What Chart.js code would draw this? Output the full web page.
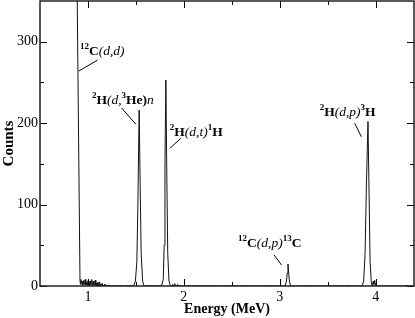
<!DOCTYPE html>
<html><head><meta charset="utf-8">
<script src="https://cdn.jsdelivr.net/npm/chart.js@4/dist/chart.umd.min.js"></script>
<style>html,body{margin:0;padding:0;background:#fff}</style>
</head><body>
<canvas id="c" width="415" height="318"></canvas>
<script>
// ---- data ----
const energy = [
  0.880,0.917,0.922,0.927,0.932,0.937,0.942,0.947,0.952,0.957,0.962,0.967,0.972,0.977,0.982,0.987,0.992,0.997,
  1.002,1.007,1.012,1.017,1.022,1.027,1.032,1.037,1.042,1.047,1.052,1.057,1.062,1.067,1.072,1.077,1.082,1.087,
  1.092,1.097,1.102,1.107,1.112,1.117,1.122,1.127,1.132,1.137,1.142,1.147,1.152,1.157,1.162,1.172,1.177,1.192,
  1.197,1.215,1.220,1.225,1.245,1.250,1.255,1.300,1.305,1.310,1.340,1.345,1.350,1.400,1.405,1.410,1.440,1.445,1.450,
  1.480,1.495,1.510,1.520,1.534,1.545,1.555,1.570,1.585,
  1.615,1.620,1.625,1.665,1.670,1.675,1.725,1.730,1.735,1.755,1.760,
  1.770,1.785,1.795,1.803,1.8125,1.822,1.832,1.845,1.860,
  1.880,1.885,1.890,1.900,1.905,1.910,1.930,1.935,1.940,1.955,1.960,1.965,2.050,2.055,2.060,2.150,2.155,2.160,
  2.220,2.225,2.230,2.260,2.265,2.270,2.300,2.305,2.310,2.420,2.425,2.430,2.600,2.605,2.610,2.860,2.865,2.870,
  2.900,2.905,2.910,
  3.055,3.070,3.078,3.086,3.094,3.102,3.115,
  3.300,3.305,3.310,3.580,3.585,3.590,3.620,3.625,3.630,3.700,3.705,3.710,
  3.860,3.875,3.890,3.903,3.920,3.932,3.942,3.955,3.965,3.975,3.982,3.990,4.000,
  4.300,4.305,4.310,4.320,4.325,4.330,4.400
];
const counts = [
  450,7,2,8,3,6,1,6,2,7,3,2,8,1,5,2,4,1,
  7,2,4,1,6,2,1,4,8,2,1,6,2,1,4,7,1,3,
  0,4,1,0,3,5,1,0,2,0,1,3,0,1,0,2,0,1,
  0,0,1,0,0,1,0,0,1,0,0,1,0,0,1,0,0,1,0,
  1,6,30,95,216,120,40,6,0,
  0,1,0,0,1,0,0,1,0,0,1,
  1,8,50,150,253,140,40,6,0,
  0,2,0,0,3,0,0,2,0,0,1,0,0,1,0,0,1,0,
  0,1,0,0,1,0,0,1,0,0,1,0,0,1,0,0,1,0,
  0,1,0,
  0,6,16,27,14,5,0,
  0,1,0,0,1,0,0,1,0,0,1,0,
  0,6,40,120,202,110,30,4,0,6,2,7,0,
  0,1,0,0,1,0,0
];
const xTickLabels = [1, 2, 3, 4];
const xMinorTicks = [1.5, 2.5, 3.5];
const yTickLabels = [0, 100, 200, 300];
const yMinorTicks = [50, 150, 250];

const FONT = '"Liberation Serif", "Times New Roman", serif';

// annotation labels (text runs) with anchors in data units
const annotations = [
  { runs:[{t:'12',s:'sup'},{t:'C',s:'b'},{t:'(d,d)',s:'i'}], at:[0.917,283.7], line:[[0.906,264],[1.101,277.5]] },
  { runs:[{t:'2',s:'sup'},{t:'H',s:'b'},{t:'(d,',s:'i'},{t:'3',s:'sup'},{t:'He',s:'b'},{t:')',s:'b'},{t:'n',s:'i'}], at:[1.042,222.9], line:[[1.351,218.6],[1.500,198.6]] },
  { runs:[{t:'2',s:'sup'},{t:'H',s:'b'},{t:'(d,t)',s:'i'},{t:'1',s:'sup'},{t:'H',s:'b'}], at:[1.854,184.2], line:[[1.969,181.4],[1.854,169.1]] },
  { runs:[{t:'12',s:'sup'},{t:'C',s:'b'},{t:'(d,p)',s:'i'},{t:'13',s:'sup'},{t:'C',s:'b'}], at:[2.566,48.5], line:[[2.941,38.1],[3.018,25.8]] },
  { runs:[{t:'2',s:'sup'},{t:'H',s:'b'},{t:'(d,p)',s:'i'},{t:'3',s:'sup'},{t:'H',s:'b'}], at:[3.417,208.8], line:[[3.781,199.8],[3.851,183.3]] }
];

const points = energy.map((e, i) => ({ x: e, y: counts[i] }));

const framePlugin = {
  id: 'frame',
  afterDatasetsDraw(chart) {
    const { ctx, chartArea: a, scales: { x, y } } = chart;
    ctx.save();
    ctx.strokeStyle = '#000';
    ctx.lineWidth = 1;
    ctx.beginPath();
    const tick = (px, len, horiz) => {
      if (horiz) {
        ctx.moveTo(px, a.bottom); ctx.lineTo(px, a.bottom - len);
        ctx.moveTo(px, a.top); ctx.lineTo(px, a.top + len);
      } else {
        ctx.moveTo(a.left, px); ctx.lineTo(a.left + len, px);
        ctx.moveTo(a.right, px); ctx.lineTo(a.right - len, px);
      }
    };
    xTickLabels.forEach(v => tick(Math.round(x.getPixelForValue(v)) + 0.5, 7, true));
    xMinorTicks.forEach(v => tick(Math.round(x.getPixelForValue(v)) + 0.5, 4, true));
    yTickLabels.forEach(v => tick(Math.round(y.getPixelForValue(v)) + 0.5, 7, false));
    yMinorTicks.forEach(v => tick(Math.round(y.getPixelForValue(v)) + 0.5, 4, false));
    ctx.stroke();
    ctx.lineWidth = 1.5;
    ctx.strokeStyle = '#222';
    ctx.strokeRect(a.left, a.top, a.right - a.left, a.bottom - a.top);

    ctx.fillStyle = '#000';
    ctx.strokeStyle = '#000';
    ctx.lineWidth = 1;
    ctx.textBaseline = 'alphabetic';
    ctx.textAlign = 'left';
    annotations.forEach(an => {
      let cx = x.getPixelForValue(an.at[0]);
      const by = y.getPixelForValue(an.at[1]);
      an.runs.forEach(r => {
        let f, dy = 0;
        if (r.s === 'sup') { f = 'bold 9px ' + FONT; dy = -6; }
        else if (r.s === 'b') { f = 'bold 13.5px ' + FONT; }
        else { f = 'italic 13.5px ' + FONT; }
        ctx.font = f;
        ctx.fillText(r.t, cx, by + dy);
        cx += ctx.measureText(r.t).width;
      });
      ctx.beginPath();
      ctx.moveTo(x.getPixelForValue(an.line[0][0]), y.getPixelForValue(an.line[0][1]));
      ctx.lineTo(x.getPixelForValue(an.line[1][0]), y.getPixelForValue(an.line[1][1]));
      ctx.stroke();
    });
    ctx.restore();
  }
};

new Chart(document.getElementById('c'), {
  type: 'line',
  data: { datasets: [{ data: points, borderColor: '#111', borderWidth: 1, pointRadius: 0, tension: 0, fill: false }] },
  options: {
    responsive: false,
    animation: false,
    layout: { padding: { top: 1, right: 1, left: 0, bottom: 0 } },
    plugins: { legend: { display: false }, tooltip: { enabled: false } },
    scales: {
      x: {
        type: 'linear', min: 0.5, max: 4.4,
        afterBuildTicks: s => { s.ticks = xTickLabels.map(v => ({ value: v })); },
        afterFit: s => { s.height = 32; s.paddingLeft = 0; s.paddingRight = 0; },
        grid: { display: false, drawTicks: false },
        border: { display: false },
        ticks: { font: { family: FONT, size: 14 }, color: '#000', padding: 3, maxRotation: 0 },
        title: { display: true, text: 'Energy (MeV)', font: { family: FONT, size: 14, weight: 'bold' }, color: '#000', padding: { top: 0, bottom: 0 } }
      },
      y: {
        type: 'linear', min: 0, max: 350,
        afterBuildTicks: s => { s.ticks = yTickLabels.map(v => ({ value: v })); },
        afterFit: s => { s.width = 40; s.paddingTop = 0; s.paddingBottom = 0; },
        grid: { display: false, drawTicks: false },
        border: { display: false },
        ticks: { font: { family: FONT, size: 14 }, color: '#000', padding: 2 },
        title: { display: true, text: 'Counts', font: { family: FONT, size: 15, weight: 'bold' }, color: '#000', padding: { top: 0, bottom: 0 } }
      }
    }
  },
  plugins: [framePlugin]
});
</script>
</body></html>
